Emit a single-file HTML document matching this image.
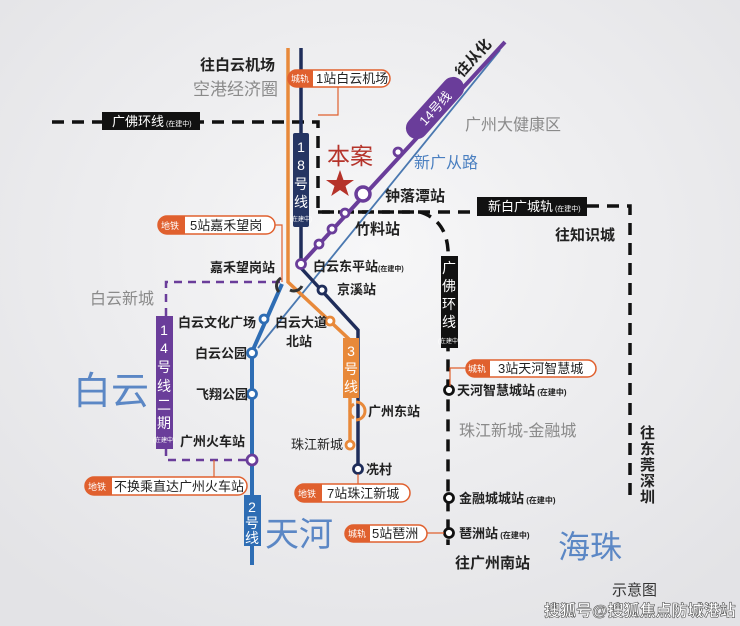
<!DOCTYPE html>
<html><head><meta charset="utf-8"><style>
html,body{margin:0;padding:0}
body{width:740px;height:626px;overflow:hidden;background:linear-gradient(135deg,#f4f4f5 0%,#ececee 60%,#e4e4e7 100%);}
svg{display:block}
text{font-family:"Liberation Sans","Noto Sans CJK SC",sans-serif}
.b{font-weight:bold;fill:#222}
</style></head><body>
<svg width="740" height="626" viewBox="0 0 740 626" xmlns="http://www.w3.org/2000/svg">
<defs>
<radialGradient id="g" cx="0.5" cy="0.4" r="0.7"><stop offset="0" stop-color="#f7f7f8"/><stop offset="1" stop-color="#e3e3e6"/></radialGradient>
</defs>
<rect width="740" height="626" fill="url(#g)"/>

<!-- black dashed 广佛环线 top -->
<path d="M52 122 H318 V212 H420" fill="none" stroke="#111" stroke-width="3.5" stroke-dasharray="12 8"/>
<path d="M420 212 Q446 220 448 250 V545" fill="none" stroke="#111" stroke-width="3.5" stroke-dasharray="12 8"/>
<path d="M587 206 H630 V503" fill="none" stroke="#111" stroke-width="3.5" stroke-dasharray="12 8"/>
<path d="M318 212 H477" fill="none" stroke="#111" stroke-width="3.5" stroke-dasharray="12 8"/>

<!-- purple dashed 14 phase 2 -->
<path d="M280 282 H166 V460 H252" fill="none" stroke="#6a3d9a" stroke-width="2.5" stroke-dasharray="8 6"/>

<!-- thin blue 新广从路 -->
<path d="M500 50 L258 348" fill="none" stroke="#4a78b0" stroke-width="1.8"/>

<!-- orange line 3 -->
<path d="M288 48 V282 L350 340 V445" fill="none" stroke="#e8893a" stroke-width="3.5"/>
<!-- navy 18 -->
<path d="M301 48 V268 L358 330 V470" fill="none" stroke="#1f2d5a" stroke-width="3.5"/>
<!-- blue line 2 -->
<path d="M282 284 L252 352 V565" fill="none" stroke="#2e6db4" stroke-width="4"/>
<!-- purple 14 -->
<path d="M505 42 L301 264" fill="none" stroke="#6a3d9a" stroke-width="4"/>

<!-- junction arcs -->
<path d="M281 278 a9 9 0 0 0 -2 14" fill="none" stroke="#333" stroke-width="3"/>
<path d="M290 290 a9 9 0 0 0 12 -4" fill="none" stroke="#333" stroke-width="3"/>
<path d="M354 404 a8 8 0 0 0 0 14" fill="none" stroke="#e8893a" stroke-width="3"/>
<path d="M356 402 a9 9 0 0 1 0 18" fill="none" stroke="#e8893a" stroke-width="3"/>

<!-- line boxes -->
<rect x="293" y="133" width="16" height="94" rx="2" fill="#253563"/>
<text fill="#fff" font-size="14" text-anchor="middle"><tspan x="301" y="152">1</tspan><tspan x="301" y="170">8</tspan><tspan x="301" y="189">号</tspan><tspan x="301" y="207">线</tspan></text>
<text fill="#fff" font-size="6" text-anchor="middle" x="301" y="221">(在建中)</text>

<rect x="343" y="338" width="16" height="60" fill="#e8893a"/>
<text fill="#fff" font-size="14" text-anchor="middle"><tspan x="351" y="356">3</tspan><tspan x="351" y="374">号</tspan><tspan x="351" y="392">线</tspan></text>

<rect x="244" y="495" width="17" height="51" fill="#2e6db4"/>
<text fill="#fff" font-size="14" text-anchor="middle"><tspan x="252" y="512">2</tspan><tspan x="252" y="528">号</tspan><tspan x="252" y="543">线</tspan></text>

<rect x="156" y="316" width="17" height="133" fill="#6a3d9a"/>
<text fill="#fff" font-size="14" text-anchor="middle"><tspan x="164" y="335">1</tspan><tspan x="164" y="353">4</tspan><tspan x="164" y="372">号</tspan><tspan x="164" y="391">线</tspan><tspan x="164" y="410">二</tspan><tspan x="164" y="428">期</tspan></text>
<text fill="#fff" font-size="6" text-anchor="middle" x="164" y="442">(在建中)</text>

<rect x="441" y="256" width="17" height="92" fill="#111"/>
<text fill="#fff" font-size="14" text-anchor="middle"><tspan x="449" y="273">广</tspan><tspan x="449" y="291">佛</tspan><tspan x="449" y="309">环</tspan><tspan x="449" y="327">线</tspan></text>
<text fill="#fff" font-size="6" text-anchor="middle" x="449" y="343">(在建中)</text>

<rect x="102" y="112" width="98" height="18" fill="#111"/>
<text fill="#fff" font-size="13" x="112" y="126">广佛环线<tspan font-size="7"> (在建中)</tspan></text>
<rect x="477" y="197" width="110" height="19" fill="#111"/>
<text fill="#fff" font-size="13" x="488" y="211">新白广城轨<tspan font-size="7"> (在建中)</tspan></text>

<!-- 14 pill -->
<g transform="translate(435 108) rotate(-48)">
<rect x="-38" y="-11" width="76" height="22" rx="11" fill="#6a3d9a"/>
<text fill="#fff" font-size="13" text-anchor="middle" y="5">14号线</text>
</g>
<text class="b" font-size="15" transform="translate(462 78) rotate(-48)">往从化</text>

<!-- stations -->
<g fill="#fff" stroke-width="2.8">
<circle cx="363" cy="194" r="7" stroke="#6a3d9a" stroke-width="3.5"/>
<circle cx="398" cy="152" r="4" stroke="#6a3d9a"/>
<circle cx="345" cy="213" r="4" stroke="#6a3d9a"/>
<circle cx="332" cy="229" r="4" stroke="#6a3d9a"/>
<circle cx="319" cy="244" r="4" stroke="#6a3d9a"/>
<circle cx="301" cy="264" r="4.5" stroke="#6a3d9a"/>
<circle cx="322" cy="290" r="4" stroke="#1f2d5a"/>
<circle cx="330" cy="321" r="4" stroke="#e8893a"/>
<circle cx="264" cy="319" r="4" stroke="#2e6db4"/>
<circle cx="252" cy="353" r="4.5" stroke="#2e6db4"/>
<circle cx="252" cy="394" r="4.5" stroke="#2e6db4"/>
<circle cx="252" cy="460" r="5" stroke="#6a3d9a"/>
<circle cx="350" cy="445" r="4" stroke="#e8893a"/>
<circle cx="358" cy="469" r="4.5" stroke="#1f2d5a"/>
<circle cx="449" cy="390" r="4.5" stroke="#111"/>
<circle cx="449" cy="498" r="4.5" stroke="#111"/>
<circle cx="449" cy="533" r="4.5" stroke="#111"/>
</g>

<!-- star -->
<polygon points="340,170 343.5,180 354,180 345.5,186 348.8,196 340,190 331.2,196 334.5,186 326,180 336.5,180" fill="#b5332a"/>
<text x="327" y="164" font-size="23" fill="#b5332a">本案</text>

<!-- callouts -->
<g font-size="12">
<path d="M338 87 V115 H318" fill="none" stroke="#e0602e" stroke-width="1.2"/>
<rect x="288" y="70" width="102" height="17" rx="8.5" fill="#fff" stroke="#e0602e" stroke-width="1.5"/>
<path d="M296.5 70 H313 V87 H296.5 a8.5 8.5 0 0 1 0 -17z" fill="#e0602e"/>
<text x="291" y="82" fill="#fff" font-size="9">城轨</text><text x="316" y="83" fill="#222" font-size="13">1站白云机场</text>

<path d="M275 225 H282 V282" fill="none" stroke="#e0602e" stroke-width="1.2"/>
<rect x="158" y="216" width="117" height="18" rx="9" fill="#fff" stroke="#e0602e" stroke-width="1.5"/>
<path d="M167 216 H185 V234 H167 a9 9 0 0 1 0 -18z" fill="#e0602e"/>
<text x="161" y="229" fill="#fff" font-size="9">地铁</text><text x="190" y="230" fill="#222" font-size="13">5站嘉禾望岗</text>

<path d="M214 477 V460" fill="none" stroke="#e0602e" stroke-width="1.2"/>
<rect x="85" y="477" width="162" height="18" rx="9" fill="#fff" stroke="#e0602e" stroke-width="1.5"/>
<path d="M94 477 H112 V495 H94 a9 9 0 0 1 0 -18z" fill="#e0602e"/>
<text x="88" y="490" fill="#fff" font-size="9">地铁</text><text x="114" y="491" fill="#222" font-size="13">不换乘直达广州火车站</text>

<path d="M358 484 V474" fill="none" stroke="#e0602e" stroke-width="1.2"/>
<rect x="295" y="484" width="115" height="18" rx="9" fill="#fff" stroke="#e0602e" stroke-width="1.5"/>
<path d="M304 484 H322 V502 H304 a9 9 0 0 1 0 -18z" fill="#e0602e"/>
<text x="298" y="497" fill="#fff" font-size="9">地铁</text><text x="327" y="498" fill="#222" font-size="13">7站珠江新城</text>

<path d="M427 533 H444" fill="none" stroke="#e0602e" stroke-width="1.2"/>
<rect x="345" y="525" width="82" height="17" rx="8.5" fill="#fff" stroke="#e0602e" stroke-width="1.5"/>
<path d="M353.5 525 H370 V542 H353.5 a8.5 8.5 0 0 1 0 -17z" fill="#e0602e"/>
<text x="348" y="537" fill="#fff" font-size="9">城轨</text><text x="372" y="538" fill="#222" font-size="13">5站琶洲</text>

<path d="M466 368 H450 V386" fill="none" stroke="#e0602e" stroke-width="1.2"/>
<rect x="466" y="360" width="130" height="17" rx="8.5" fill="#fff" stroke="#e0602e" stroke-width="1.5"/>
<path d="M474.5 360 H490 V377 H474.5 a8.5 8.5 0 0 1 0 -17z" fill="#e0602e"/>
<text x="468" y="372" fill="#fff" font-size="9">城轨</text><text x="498" y="373" fill="#222" font-size="13">3站天河智慧城</text>
</g>

<!-- labels -->
<g class="b" font-size="14">
<text x="200" y="70" font-size="15">往白云机场</text>
<text x="385" y="201" font-size="15">钟落潭站</text>
<text x="355" y="234" font-size="15">竹料站</text>
<text x="555" y="240" font-size="15">往知识城</text>
<text x="210" y="272" font-size="13">嘉禾望岗站</text>
<text x="313" y="271" font-size="13">白云东平站<tspan font-size="7">(在建中)</tspan></text>
<text x="337" y="294" font-size="13">京溪站</text>
<text x="178" y="327" font-size="13">白云文化广场</text>
<text x="275" y="327" font-size="13">白云大道</text>
<text x="286" y="346" font-size="13">北站</text>
<text x="195" y="358" font-size="13">白云公园</text>
<text x="196" y="399" font-size="13">飞翔公园</text>
<text x="180" y="446" font-size="13">广州火车站</text>
<text x="368" y="416" font-size="13">广州东站</text>
<text x="291" y="449" font-size="13" font-weight="normal">珠江新城</text>
<text x="366" y="474" font-size="13">冼村</text>
<text x="457" y="395" font-size="13">天河智慧城站<tspan font-size="8"> (在建中)</tspan></text>
<text x="459" y="503" font-size="13">金融城城站<tspan font-size="8">  (在建中)</tspan></text>
<text x="459" y="538" font-size="13">琶洲站<tspan font-size="8">  (在建中)</tspan></text>
<text x="455" y="568" font-size="15">往广州南站</text>
<text font-size="15"><tspan x="640" y="438">往</tspan><tspan x="640" y="454">东</tspan><tspan x="640" y="470">莞</tspan><tspan x="640" y="486">深</tspan><tspan x="640" y="502">圳</tspan></text>
</g>
<g fill="#8a8a8a" font-size="16">
<text x="193" y="95" font-size="17">空港经济圈</text>
<text x="465" y="130" font-size="16">广州大健康区</text>
<text x="90" y="304" font-size="16">白云新城</text>
<text x="459" y="436" font-size="16">珠江新城-金融城</text>
</g>
<text x="414" y="168" font-size="16" fill="#4a7fc0">新广从路</text>
<g fill="#5b87c5">
<text x="73" y="404" font-size="38">白云</text>
<text x="265" y="546" font-size="34">天河</text>
<text x="558" y="558" font-size="32">海珠</text>
</g>
<text x="612" y="595" font-size="15" fill="#333">示意图</text>
<text x="544" y="616" font-size="16" font-weight="bold" fill="#fff" stroke="#555" stroke-width="0.6">搜狐号@搜狐焦点防城港站</text>
</svg>
</body></html>
